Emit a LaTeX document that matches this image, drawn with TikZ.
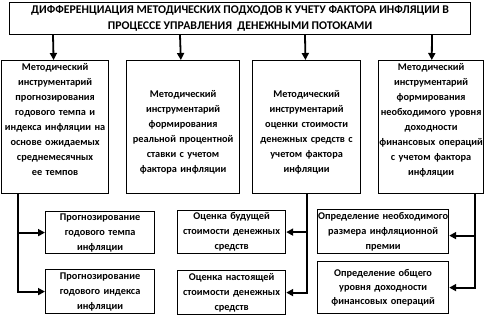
\documentclass[tikz,border=0pt]{standalone}
\usepackage{fontspec}
\setmainfont{Carlito}
\usetikzlibrary{arrows.meta}
\tikzset{
    % Plain black frames, sharp corners
    titlebox/.style={
        rectangle,
        draw=black,
        line width=1.2pt,
        anchor=north west,
        minimum width=461pt,
        minimum height=32pt,
        inner sep=0pt,
        align=center,
        font=\bfseries\fontsize{11.8}{16}\selectfont
    },
    methbox/.style={
        rectangle,
        draw=black,
        line width=1.2pt,
        anchor=north west,
        minimum height=133pt,
        inner sep=0pt,
        align=center,
        font=\bfseries\fontsize{10.3}{15}\selectfont
    },
    subbox/.style={
        rectangle,
        draw=black,
        line width=1.2pt,
        anchor=north west,
        inner sep=0pt,
        align=center,
        font=\bfseries\fontsize{10.3}{15}\selectfont
    },
    arrow/.style={
        -{Triangle[length=7pt,width=7pt]},
        line width=1.8pt,
        color=black
    }
}

\begin{document}
\begin{tikzpicture}[x=1pt, y=-1pt]
    \useasboundingbox (0,0) rectangle (486,314);

    % Title
    \node[titlebox] (title) at (9,2) {
        ДИФФЕРЕНЦИАЦИЯ МЕТОДИЧЕСКИХ ПОДХОДОВ К УЧЕТУ ФАКТОРА ИНФЛЯЦИИ В\\
        ПРОЦЕССЕ УПРАВЛЕНИЯ~~ДЕНЕЖНЫМИ ПОТОКАМИ
    };

    % Methodical toolkits
    \node[methbox, text width=107pt] (meth1) at (1,60) {
        Методический\\ инструментарий\\ прогнозирования\\ годового темпа и\\
        индекса инфляции на\\ основе ожидаемых\\ среднемесячных\\ ее темпов\\ \mbox{}
    };
    \node[methbox, text width=113pt] (meth2) at (126,60) {
        \mbox{}\\ \mbox{}\\ Методический\\ инструментарий\\ формирования\\
        реальной процентной\\ ставки с учетом\\ фактора инфляции\\ \mbox{}
    };
    \node[methbox, text width=108pt] (meth3) at (252,60) {
        \mbox{}\\ \mbox{}\\ Методический\\ инструментарий\\ оценки стоимости\\
        денежных средств с\\ учетом фактора\\ инфляции\\ \mbox{}
    };
    \node[methbox, text width=105pt] (meth4) at (378,60) {
        Методический\\ инструментарий\\ формирования\\ необходимого уровня\\
        доходности\\ финансовых операций\\ с учетом фактора\\ инфляции\\ \mbox{}
    };

    % Results
    \node[subbox, text width=109pt, minimum height=42pt] (prog1) at (45,211) {
        Прогнозирование\\ годового темпа\\ инфляции
    };
    \node[subbox, text width=109pt, minimum height=44pt] (prog2) at (45,269) {
        Прогнозирование\\ годового индекса\\ инфляции
    };
    \node[subbox, text width=108pt, minimum height=43pt] (eval1) at (177,210) {
        Оценка будущей\\ стоимости денежных\\ средств
    };
    \node[subbox, text width=108pt, minimum height=44pt] (eval2) at (177,270) {
        Оценка настоящей\\ стоимости денежных\\ средств
    };
    \node[subbox, text width=131pt, minimum height=44pt] (def1) at (317,209) {
        Определение необходимого\\ размера инфляционной\\ премии
    };
    \node[subbox, text width=131pt, minimum height=52pt,
          font=\bfseries\fontsize{10.3}{14}\selectfont] (def2) at (317,261) {
        Определение общего\\ уровня доходности\\ финансовых операций
    };

    % Branch lines
    \coordinate (br1) at (18,0);
    \coordinate (br3) at (307,0);
    \coordinate (br4) at (475,0);

    % Arrows
    \draw[arrow] (title.south -| 53,0) -- (meth1);
    \draw[arrow] (title.south -| 180,0) -- (meth2);
    \draw[arrow] (title.south -| 305,0) -- (meth3);
    \draw[arrow] (title.south -| 432,0) -- (meth4);

    \draw[arrow] (meth1.south -| br1) |- (prog1.west);
    \draw[arrow] (meth1.south -| br1) |- (prog2.west);
    \draw[arrow] (meth3.south -| br3) |- (eval1.east);
    \draw[arrow] (meth3.south -| br3) |- (eval2.east);
    \draw[arrow] (meth4.south -| br4) |- ([yshift=-4pt]def1.east);
    \draw[arrow] (meth4.south -| br4) |- (def2.east);
\end{tikzpicture}
\end{document}
